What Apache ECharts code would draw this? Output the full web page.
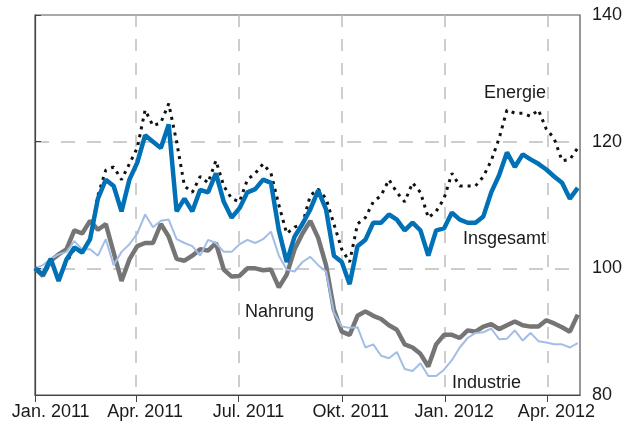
<!DOCTYPE html>
<html>
<head>
<meta charset="utf-8">
<script src="https://cdn.jsdelivr.net/npm/echarts@6/dist/echarts.min.js"></script>
<style>
    html, body { margin: 0; padding: 0; background: #fff; }
    #chart { width: 629px; height: 422px; }
</style>
</head>
<body>
<div id="chart"></div>
<script>
    // Tage seit Anfang 2011 (Wochenwerte)
    var days = [0, 7, 14, 21, 28, 35, 42, 49, 56, 63, 70, 77, 84, 91, 98, 105, 112, 119, 126, 133,
        140, 147, 154, 161, 168, 175, 182, 189, 196, 203, 210, 217, 224, 231, 238, 245, 252, 259, 266, 273,
        280, 287, 294, 301, 308, 315, 322, 329, 336, 343, 350, 357, 364, 371, 378, 385, 392, 399, 406, 413,
        420, 427, 434, 441, 448, 455, 462, 469, 476, 483];

    var insgesamt = [100, 99, 101.5, 98, 101.4, 103.3, 102.5, 104.6, 111, 114,
        113, 109, 114, 116.7, 121, 120, 119, 122.7, 109, 111,
        109, 112.4, 112, 115, 110.5, 108, 109.5, 112, 112.5, 114,
        113.5, 106, 101, 105, 107, 109.3, 112.3, 109.3, 102, 101,
        97.5, 103.5, 104.5, 107.2, 107.2, 108.5, 107.7, 106, 107.2, 106,
        102, 106, 106.3, 108.8, 107.7, 107.2, 107.2, 108.2, 112, 114.7,
        118.3, 116, 118, 117.2, 116.5, 115.6, 114.5, 113.5, 111, 112.7];

    var energie = [100, 99, 101, 98.5, 101, 103, 102.5, 104.5, 111.5, 115.5,
        116, 114, 116.5, 119, 125, 122.5, 123, 126, 120, 113,
        112, 114.5, 113.5, 117, 113, 111, 110.5, 114, 115, 116.5,
        115, 110, 105.5, 106.5, 107, 111.5, 112.5, 111, 107, 103,
        101, 107, 108, 110.5, 111.5, 114, 112, 110.5, 113.5, 112,
        108, 109, 111, 115, 113, 113, 113, 114.5, 117, 120.5,
        125, 124.5, 124.5, 124, 125, 122, 120.5, 117, 117.2, 119];

    var nahrung = [100, 98.8, 101.2, 102.2, 103, 106, 105.5, 107.5, 106.1, 107,
        102.5, 98, 101.4, 103.5, 104, 104, 107, 105, 101.5, 101.2,
        102, 103, 102.8, 104, 99.8, 98.7, 98.8, 100, 100, 99.7,
        99.8, 97, 99, 103, 105.5, 107.5, 104.8, 100.5, 93.5, 90,
        89.5, 92.5, 93.2, 92.5, 92, 91, 90.3, 88, 87.5, 86.5,
        84.5, 88, 89.5, 89.5, 89, 90.2, 90, 90.8, 91.2, 90.4,
        91, 91.6, 91, 90.8, 90.8, 91.8, 91.3, 90.7, 90, 92.7];

    var industrie = [100, 100.5, 101.5, 102.2, 102.6, 104.3, 103, 103, 102, 104.6,
        100.5, 102.6, 103.8, 105.5, 108.5, 106.5, 107.5, 107.7, 104.6, 104,
        103.5, 102, 104.5, 104, 102.6, 102.6, 103.8, 104.5, 104, 104.6,
        105.8, 102, 99.8, 99.5, 101, 101.8, 100.5, 99.5, 93, 90.8,
        90.6, 90.7, 87.5, 88, 86.2, 85.8, 86.8, 84.1, 83.8, 85,
        83, 83, 84, 85.5, 87.5, 89, 89.8, 89.9, 90.5, 88.8,
        88.9, 90.2, 88.6, 89.8, 88.5, 88.3, 88, 88, 87.5, 88.2];

    // Monatsanfaenge und Beschriftungen
    var tickDays = [0, 90, 181, 273, 365, 456];
    var labelDays = [14, 98, 190, 281, 373, 464];
    var tickLabels = ['Jan. 2011', 'Apr. 2011', 'Jul. 2011', 'Okt. 2011', 'Jan. 2012', 'Apr. 2012'];

    var font = '"Liberation Sans", Arial, sans-serif';

    function pairs(arr) {
        return days.map(function (d, i) { return [d, arr[i]]; });
    }

    var chart = echarts.init(document.getElementById('chart'));
    var option = {
        animation: false,
        grid: {
            left: 35,
            right: 49,
            top: 15,
            bottom: 27,
            show: true,
            borderColor: '#555',
            borderWidth: 1.2
        },
        xAxis: {
            type: 'value',
            min: 0,
            max: 485,
            axisLine: { show: true, lineStyle: { color: '#444', width: 1.2 } },
            axisTick: { show: true, customValues: tickDays, length: 7, lineStyle: { color: '#444' } },
            axisLabel: {
                customValues: labelDays,
                fontSize: 18,
                fontFamily: font,
                color: '#1a1a1a',
                margin: 8,
                formatter: function (v) {
                    return tickLabels[labelDays.indexOf(v)];
                }
            },
            splitLine: {
                show: true,
                showMinLine: false,
                lineStyle: { type: [12, 12], color: '#bdbdbd', width: 1.5 }
            }
        },
        yAxis: {
            type: 'value',
            position: 'right',
            min: 80,
            max: 140,
            interval: 20,
            axisLine: { show: true, lineStyle: { color: '#444', width: 1.2 } },
            axisTick: { show: true, length: 6, lineStyle: { color: '#444' } },
            axisLabel: { fontSize: 18, fontFamily: font, color: '#1a1a1a', margin: 12 },
            splitLine: {
                show: true,
                showMinLine: false,
                showMaxLine: false,
                lineStyle: { type: [14, 12], color: '#bdbdbd', width: 1.5 }
            }
        },
        series: [
            {
                name: 'Nahrung',
                type: 'line',
                symbol: 'none',
                data: pairs(nahrung),
                lineStyle: { color: '#757575', width: 4.5 }
            },
            {
                name: 'Industrie',
                type: 'line',
                symbol: 'none',
                data: pairs(industrie),
                lineStyle: { color: '#a2bde6', width: 2 }
            },
            {
                name: 'Energie',
                type: 'line',
                symbol: 'none',
                data: pairs(energie),
                lineStyle: { color: '#111', width: 3, type: [3, 5] }
            },
            {
                name: 'Insgesamt',
                type: 'line',
                symbol: 'none',
                data: pairs(insgesamt),
                lineStyle: { color: '#0071b6', width: 4.5 }
            }
        ],
        graphic: [
            { type: 'text', x: 484, y: 93, style: { text: 'Energie', font: '18px ' + font, fill: '#1a1a1a', verticalAlign: 'middle' } },
            { type: 'text', x: 463, y: 239, style: { text: 'Insgesamt', font: '18px ' + font, fill: '#1a1a1a', verticalAlign: 'middle' } },
            { type: 'text', x: 245, y: 312, style: { text: 'Nahrung', font: '18px ' + font, fill: '#1a1a1a', verticalAlign: 'middle' } },
            { type: 'text', x: 452, y: 383, style: { text: 'Industrie', font: '18px ' + font, fill: '#1a1a1a', verticalAlign: 'middle' } }
        ]
    };
    chart.setOption(option, true);
</script>
</body>
</html>
